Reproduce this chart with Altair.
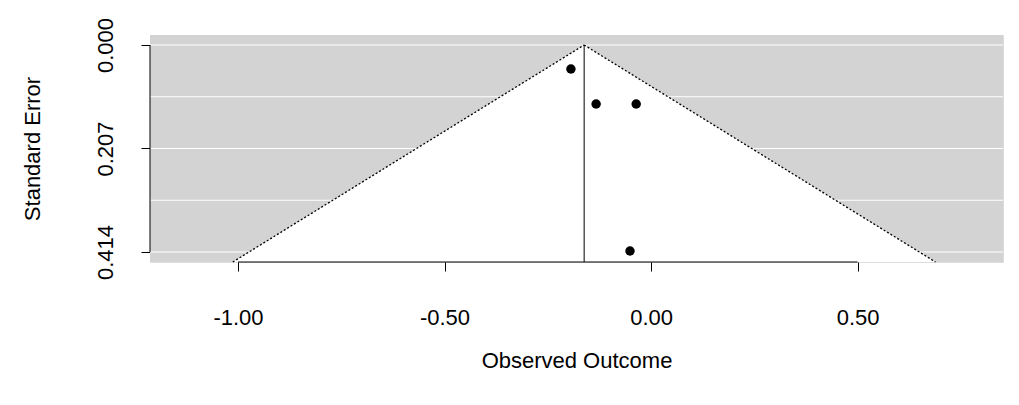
import altair as alt
import pandas as pd

est = [-0.194, -0.133, -0.036, -0.051]
se = [0.048, 0.118, 0.118, 0.412]
center = -0.162
se_ticks = [0.0, 0.207, 0.414]
grid = [0.0, 0.1035, 0.207, 0.3105, 0.414]
x_ticks = [-1.0, -0.5, 0.0, 0.5]
XD = [-1.213, 0.852]
YD = [-0.02, 0.434]

pts = pd.DataFrame({"x": est, "se": se})
fun_se = [0.0, YD[1]]
funnel = pd.DataFrame({"se": fun_se,
                       "lo": [center - 1.96 * s for s in fun_se],
                       "hi": [center + 1.96 * s for s in fun_se]})

F = "Liberation Sans"
common = dict(grid=False, domain=False, tickColor="black", tickSize=9,
              labelFontSize=22, labelFont=F, labelColor="black",
              titleFont=F, titleFontSize=22, titleFontWeight="normal", titleColor="black")
xs = alt.Scale(domain=XD, nice=False, zero=False)
ys = alt.Scale(domain=YD, nice=False, zero=False, reverse=True)
XA = alt.Axis(values=x_ticks, labelExpr="replace(format(datum.value, '.2f'), '\u2212', '-')",
              labelPadding=36, titlePadding=22, **common)
YA = alt.Axis(values=se_ticks, format=".3f", labelAngle=270, labelAlign="center",
              labelBaseline="bottom", labelPadding=24, titlePadding=50, **common)

def X(f):
    return alt.X(f, scale=xs, title="Observed Outcome", axis=XA)

def Y(f):
    return alt.Y(f, scale=ys, title="Standard Error", axis=YA)

bg = alt.Chart(pd.DataFrame({"a": [XD[0]], "b": [XD[1]], "c": [YD[0]], "d": [YD[1]]})).mark_rect(color="#d3d3d3").encode(
    x=X("a:Q"), x2="b:Q", y=Y("c:Q"), y2="d:Q")

area = alt.Chart(funnel).mark_area(color="white", orient="horizontal", opacity=1).encode(
    y=Y("se:Q"), x=X("lo:Q"), x2="hi:Q")

gl = alt.Chart(pd.DataFrame({"g": grid})).mark_rule(color="white", strokeWidth=1).encode(y=Y("g:Q"))

lines = alt.Chart(funnel).mark_line(color="black", strokeDash=[2, 2], strokeWidth=1.3)
lo_l = lines.encode(x=X("lo:Q"), y=Y("se:Q"))
hi_l = lines.encode(x=X("hi:Q"), y=Y("se:Q"))

vline = alt.Chart(pd.DataFrame({"x": [center], "a": [0.0], "b": [YD[1]]})).mark_rule(color="black").encode(
    x=X("x:Q"), y=Y("a:Q"), y2="b:Q")

yax = alt.Chart(pd.DataFrame({"x": [XD[0]], "a": [se_ticks[0]], "b": [se_ticks[-1]]})).mark_rule(color="black").encode(
    x=X("x:Q"), y=Y("a:Q"), y2="b:Q")
xax = alt.Chart(pd.DataFrame({"y": [YD[1]], "a": [x_ticks[0]], "b": [x_ticks[-1]]})).mark_rule(color="black").encode(
    y=Y("y:Q"), x=X("a:Q"), x2="b:Q")

dots = alt.Chart(pts).mark_circle(color="black", size=90, opacity=1).encode(x=X("x:Q"), y=Y("se:Q"))

chart = alt.layer(bg, area, gl, lo_l, hi_l, vline, yax, xax, dots).properties(
    width=853, height=227, autosize=alt.AutoSizeParams(type="none"),
    padding={"left": 142, "top": 27, "right": 8, "bottom": 135}
).configure_view(stroke=None).configure(background="white")

chart.save("out.html", embed_options={"renderer": "svg", "actions": False})
